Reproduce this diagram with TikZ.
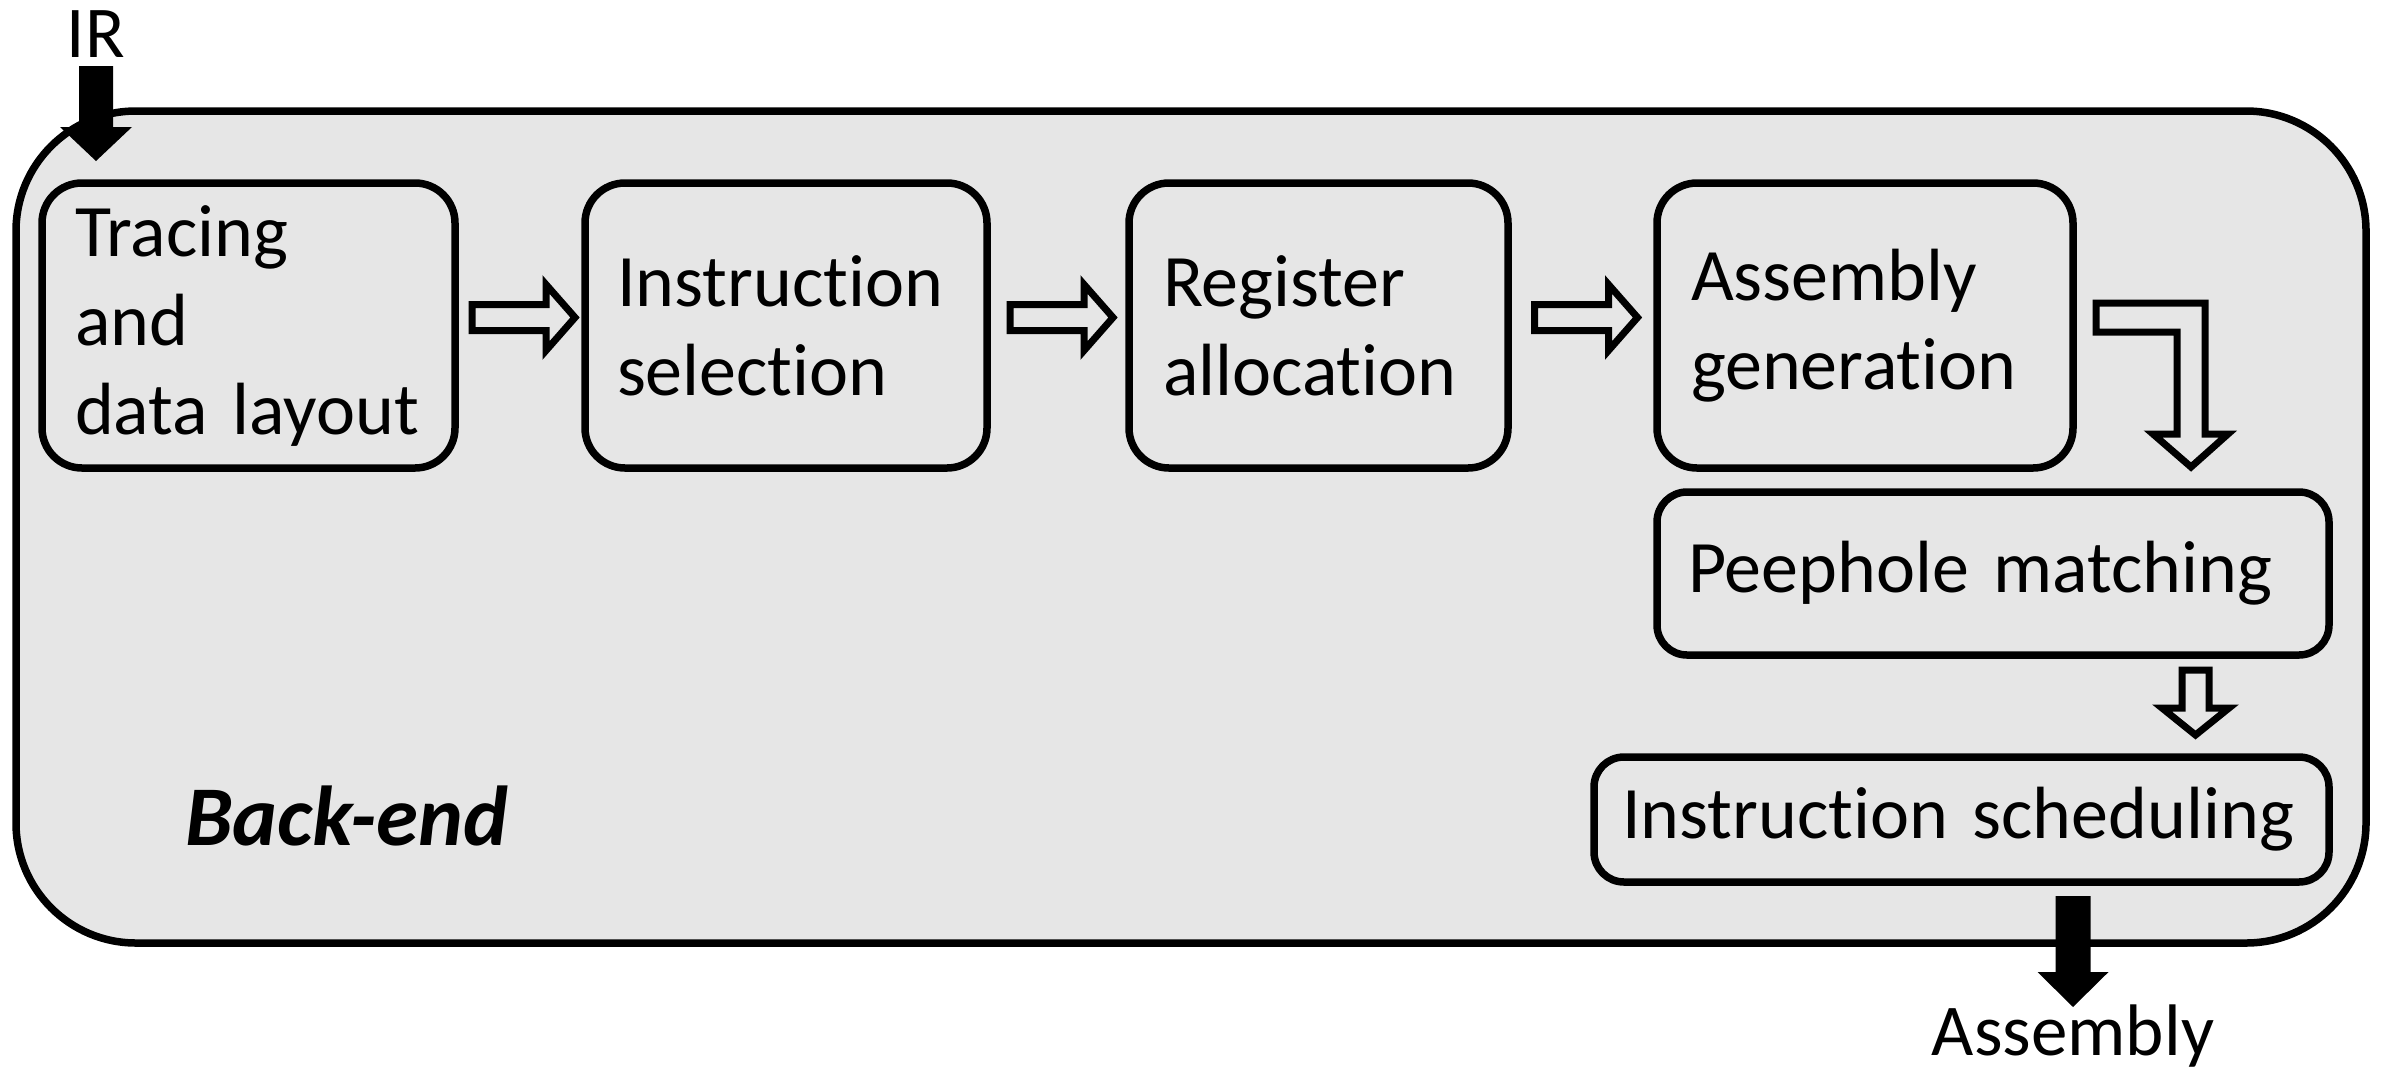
\documentclass[tikz,border=0pt]{standalone}
\usepackage{fontspec}
\setmainfont{Carlito}[Ligatures={NoCommon,NoContextual}, RawFeature={-liga;-clig}, WordSpace=0.8]
\usetikzlibrary{calc}
\definecolor{panelgray}{HTML}{E6E6E6}

% hollow block arrow centred in the gap between two stages
\newcommand\flowarrow[2]{%
  \draw[hollowarrow] ($(#1.east)!0.5!(#2.west)+(-48,-21)$)
    -- ++(74,0) -- ++(0,-20) -- ++(29,33) -- ++(-29,33)
    -- ++(0,-20) -- ++(-74,0) -- cycle;}

\begin{document}
\begin{tikzpicture}[x=1pt,y=-1pt,
  stagebox/.style={draw, line width=7.5pt, fill=panelgray, rounded corners=40pt,
    inner sep=0pt, outer sep=0pt, align=left,
    font=\fontsize{74}{89}\selectfont},
  hollowarrow/.style={draw, line width=7pt, fill=panelgray, line join=miter},
  solidarrow/.style={fill=black, draw=none},
  labeltext/.style={inner sep=0pt, font=\fontsize{73}{88}\selectfont}]

\useasboundingbox (0,0) rectangle (2382,1069);

% back-end panel
\node[draw, line width=7.5pt, fill=panelgray, rounded corners=120pt,
      minimum width=2350pt, minimum height=832pt, inner sep=0pt] (panel) at (1191,527) {};

% stages
\node[stagebox, minimum width=413pt, minimum height=285pt, text width=347pt]
  (b1) at (248.5,325.5) {Tracing\\and\\data layout};
\node[stagebox, minimum width=402pt, minimum height=285pt, text width=338pt]
  (b2) at (786,325.5) {Instruc\kern0pt tion\\selection};
\node[stagebox, minimum width=379pt, minimum height=285pt, text width=311pt]
  (b3) at (1318.5,325.5) {Register\\allocation};
\node[stagebox, minimum width=416pt, minimum height=285pt, text width=348pt]
  (b4) at (1865,325.5) {Assembly\\generation};
\node[stagebox, rounded corners=30pt, minimum width=672pt, minimum height=163pt, text width=610pt]
  (b5) at (1993,573.5) {Peephole~matching};
\node[stagebox, rounded corners=30pt, minimum width=735pt, minimum height=125pt, text width=679pt]
  (b6) at (1961.5,819.5) {Instruc\kern0pt tion~scheduling};

\node[anchor=base west, inner sep=0pt, font=\fontsize{85}{100}\selectfont\bfseries\itshape]
  (title) at (185,845) {Back-end};

% arrows between stages
\flowarrow{b1}{b2}
\flowarrow{b2}{b3}
\flowarrow{b3}{b4}

\draw[hollowarrow] ($(b4.east)+(23,-22.5)$)
  -- ++(109,0) -- ++(0,131) -- ++(23,0) -- ++(-37,33) -- ++(-38,-33)
  -- ++(24,0) -- ++(0,-102) -- ++(-81,0) -- cycle;

\draw[hollowarrow] ($(b5.south east)!0.5!(b6.north east)+(-147,-36)$)
  -- ++(27,0) -- ++(0,38) -- ++(20,0) -- ++(-33.5,27) -- ++(-33.5,-27)
  -- ++(20,0) -- cycle;

% input and output
\node[labeltext, anchor=base] (ir) at (96,57) {IR};
\fill[solidarrow] ($(ir.base)+(-17,9)$)
  -- ++(34,0) -- ++(0,61) -- ++(19,0) -- ++(-36,34) -- ++(-36,-34)
  -- ++(19,0) -- cycle;

\node[labeltext, anchor=base] (asm) at (2073,1055) {Assembly};
\coordinate (asmtop) at (b6.south -| asm.base);
\fill[solidarrow] ($(asmtop)+(-17.5,14)$)
  -- ++(35,0) -- ++(0,76) -- ++(18,0) -- ++(-35.5,35) -- ++(-35.5,-35)
  -- ++(18,0) -- cycle;
\end{tikzpicture}
\end{document}
